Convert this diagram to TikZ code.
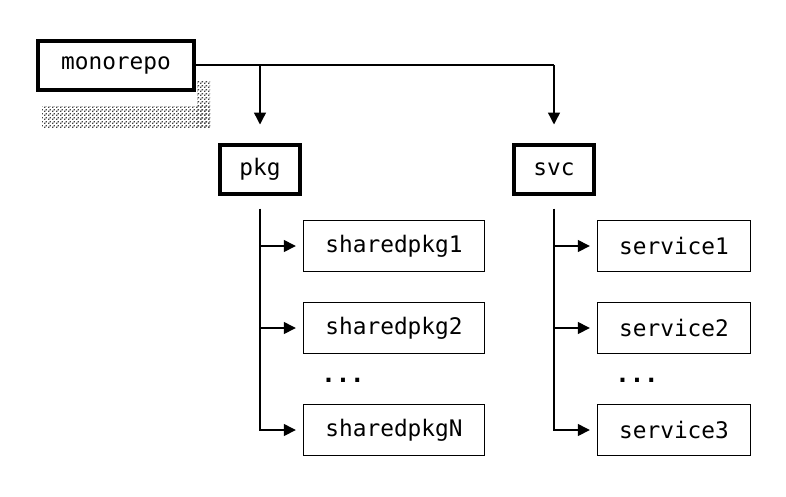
\documentclass[tikz,border=0pt]{standalone}
\usepackage{fontspec}
\setmonofont{DejaVu Sans Mono}
\usetikzlibrary{arrows.meta,patterns}
\pgfdeclarepatternformonly{ascshade}{\pgfpointorigin}{\pgfpoint{4pt}{4pt}}{\pgfpoint{4pt}{4pt}}{%
  \pgfpathrectangle{\pgfpointorigin}{\pgfpoint{1.6pt}{1.6pt}}%
  \pgfpathrectangle{\pgfpoint{2pt}{2pt}}{\pgfpoint{1.6pt}{1.6pt}}%
  \pgfusepath{fill}}
\begin{document}
\begin{tikzpicture}[x=1pt,y=-1pt,
  font=\ttfamily\fontsize{22.8}{26}\selectfont,
  thickbox/.style={draw, line width=4pt, inner sep=0pt, minimum height=49pt},
  thinbox/.style={draw, line width=1.4pt, inner sep=0pt, minimum height=51pt},
  conn/.style={line width=1.4pt},
  tip/.style={-{Triangle[width=12pt,length=12pt]}},
  plain/.style={inner sep=0pt, font=\ttfamily\bfseries\fontsize{24}{26}\selectfont}]
\useasboundingbox (0,0) rectangle (786,496);
% shadow
\fill[pattern=ascshade, pattern color=black!75] (197,80) rectangle (210,128);
\fill[pattern=ascshade, pattern color=black!75] (42,106) rectangle (210,128);
% boxes
\node[thickbox, minimum width=156pt] (mono) at (116,65) {monorepo};
\node[thickbox, minimum width=80pt] (pkg) at (260,169) {pkg};
\node[thickbox, minimum width=80pt] (svc) at (554,169) {svc};
\node[thinbox, minimum width=181pt] (sp1) at (394,246) {sharedpkg1};
\node[thinbox, minimum width=181pt] (sp2) at (394,328) {sharedpkg2};
\node[thinbox, minimum width=181pt] (spN) at (394,430) {sharedpkgN};
\node[thinbox, minimum width=153pt] (s1) at (674,246) {service1};
\node[thinbox, minimum width=153pt] (s2) at (674,328) {service2};
\node[thinbox, minimum width=153pt] (s3) at (674,430) {service3};
\node[plain] (d1) at (343,380) {...};
\node[plain] (d2) at (637,380) {...};
% top connectors
\draw[conn] (mono.east) -- (svc.north |- mono.east);
\draw[conn,tip] (pkg.north |- mono.east) -- ([yshift=18pt]pkg.north);
\draw[conn,tip] (svc.north |- mono.east) -- ([yshift=18pt]svc.north);
% pkg tree
\draw[conn,tip] ([yshift=-13pt]pkg.south) |- ([xshift=-7pt]spN.west);
\draw[conn,tip] (pkg.south |- sp1.west) -- ([xshift=-7pt]sp1.west);
\draw[conn,tip] (pkg.south |- sp2.west) -- ([xshift=-7pt]sp2.west);
% svc tree
\draw[conn,tip] ([yshift=-13pt]svc.south) |- ([xshift=-7pt]s3.west);
\draw[conn,tip] (svc.south |- s1.west) -- ([xshift=-7pt]s1.west);
\draw[conn,tip] (svc.south |- s2.west) -- ([xshift=-7pt]s2.west);
\end{tikzpicture}
\end{document}
